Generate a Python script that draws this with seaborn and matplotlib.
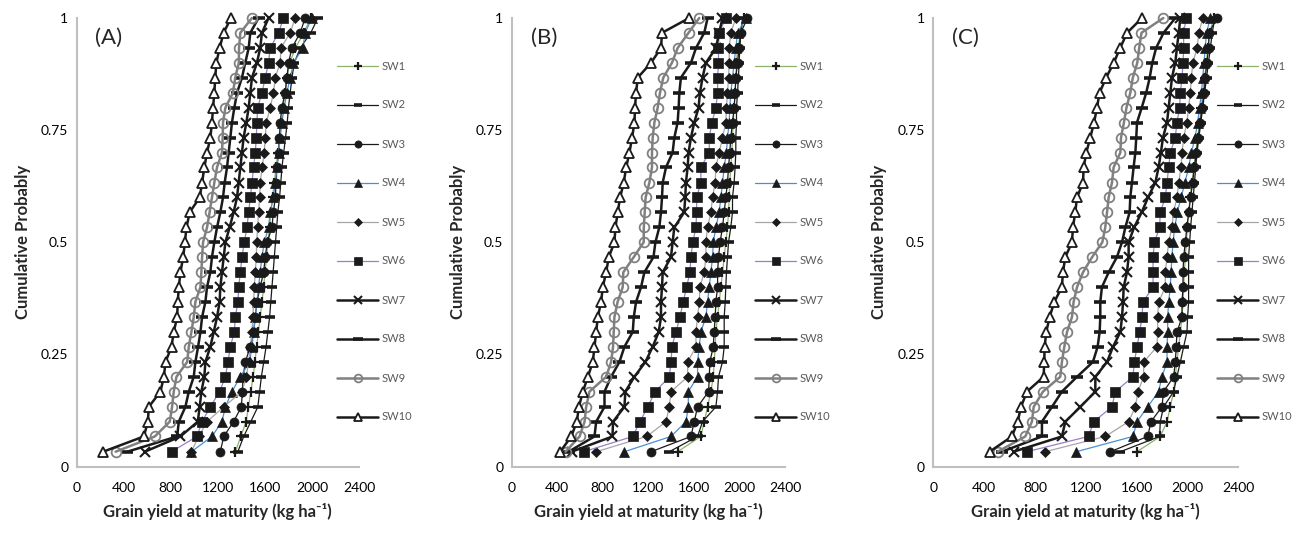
import pandas as pd
import seaborn as sns
import matplotlib.pyplot as plt

# cumulative probability of the 30 ranked seasons
PROB = [0.033, 0.067, 0.1, 0.133, 0.167, 0.2, 0.233, 0.267, 0.3, 0.333,
        0.367, 0.4, 0.433, 0.467, 0.5, 0.533, 0.567, 0.6, 0.633, 0.667,
        0.7, 0.733, 0.767, 0.8, 0.833, 0.867, 0.9, 0.933, 0.967, 1.0]

SERIES = ['SW1', 'SW2', 'SW3', 'SW4', 'SW5', 'SW6', 'SW7', 'SW8', 'SW9', 'SW10']
PANEL_TAGS = ['(A)', '(B)', '(C)']
X_TICKS = [0, 400, 800, 1200, 1600, 2000, 2400]
Y_TICKS = [0, 0.25, 0.5, 0.75, 1]
Y_TICKLABELS = ['0', '0.25', '0.5', '0.75', '1']

# ---- panel A (grain yield, kg/ha) ----
A_SW1 = [1350, 1395, 1440, 1460, 1480, 1500, 1515, 1530, 1545, 1560, 1575, 1590, 1600, 1615, 1625,
         1640, 1650, 1665, 1680, 1695, 1710, 1725, 1740, 1755, 1770, 1790, 1810, 1860, 1930, 1990]
A_SW2 = [1370, 1420, 1480, 1540, 1555, 1570, 1590, 1610, 1625, 1640, 1650, 1660, 1670, 1680, 1690,
         1700, 1710, 1725, 1735, 1745, 1760, 1775, 1790, 1800, 1815, 1830, 1850, 1900, 1990, 2050]
A_SW3 = [1221, 1250, 1334, 1400, 1408, 1415, 1433, 1476, 1504, 1518, 1532, 1560, 1589, 1603, 1620,
         1659, 1673, 1688, 1696, 1702, 1716, 1724, 1730, 1744, 1772, 1787, 1801, 1829, 1900, 1942]
A_SW4 = [975, 1150, 1235, 1264, 1320, 1391, 1470, 1490, 1504, 1518, 1532, 1546, 1560, 1575, 1595,
         1631, 1645, 1673, 1688, 1702, 1716, 1730, 1744, 1764, 1787, 1815, 1843, 1922, 1942, 2000]
A_SW5 = [975, 1037, 1108, 1250, 1405, 1442, 1462, 1476, 1490, 1498, 1504, 1510, 1518, 1527, 1530,
         1538, 1546, 1555, 1560, 1577, 1594, 1603, 1612, 1645, 1673, 1688, 1730, 1736, 1815, 1857]
A_SW6 = [806, 1023, 1066, 1136, 1215, 1264, 1286, 1306, 1340, 1348, 1371, 1377, 1391, 1405, 1425,
         1447, 1462, 1476, 1490, 1504, 1518, 1527, 1532, 1538, 1575, 1603, 1631, 1645, 1716, 1758]
A_SW7 = [580, 882, 1029, 1046, 1060, 1085, 1094, 1136, 1165, 1193, 1215, 1221, 1235, 1250, 1264,
         1300, 1334, 1363, 1377, 1391, 1405, 1419, 1442, 1462, 1476, 1490, 1532, 1560, 1575, 1631]
A_SW8 = [430, 854, 868, 924, 953, 995, 1009, 1032, 1052, 1066, 1094, 1108, 1136, 1150, 1170,
         1193, 1221, 1244, 1258, 1278, 1292, 1306, 1320, 1340, 1363, 1405, 1433, 1462, 1476, 1546]
A_SW9 = [331, 664, 791, 811, 825, 848, 939, 953, 975, 995, 1009, 1052, 1060, 1066, 1074,
         1108, 1130, 1150, 1170, 1193, 1235, 1241, 1244, 1264, 1328, 1348, 1378, 1380, 1391, 1490]
A_SW10 = [225, 571, 605, 613, 712, 741, 755, 806, 825, 854, 859, 868, 882, 905, 920,
          933, 961, 1046, 1066, 1085, 1108, 1136, 1150, 1159, 1170, 1178, 1187, 1215, 1249, 1312]

# ---- panel B ----
B_SW1 = [1457, 1661, 1691, 1720, 1749, 1770, 1778, 1787, 1793, 1808, 1822, 1837, 1851, 1866, 1880,
         1895, 1904, 1910, 1915, 1924, 1933, 1939, 1945, 1953, 1962, 1968, 1974, 1983, 2012, 2041]
B_SW2 = [1384, 1632, 1676, 1793, 1808, 1816, 1851, 1866, 1866, 1866, 1875, 1880, 1886, 1895, 1904,
         1924, 1939, 1939, 1953, 1962, 1968, 1968, 1974, 1974, 1983, 1991, 1997, 2003, 2012, 2027]
B_SW3 = [1224, 1574, 1603, 1632, 1729, 1735, 1740, 1770, 1778, 1787, 1793, 1808, 1808, 1816, 1830,
         1851, 1866, 1880, 1895, 1904, 1915, 1924, 1939, 1953, 1962, 1968, 1983, 1997, 2012, 2070]
B_SW4 = [990, 1399, 1530, 1551, 1551, 1632, 1632, 1647, 1661, 1705, 1720, 1735, 1749, 1764, 1770,
         1793, 1822, 1837, 1851, 1866, 1886, 1895, 1910, 1915, 1924, 1939, 1953, 1968, 1983, 2056]
B_SW5 = [742, 1186, 1355, 1384, 1399, 1545, 1545, 1618, 1618, 1632, 1647, 1653, 1691, 1705, 1705,
         1720, 1749, 1764, 1787, 1793, 1822, 1851, 1880, 1886, 1895, 1904, 1910, 1910, 1924, 1968]
B_SW6 = [633, 1063, 1127, 1194, 1261, 1384, 1399, 1407, 1442, 1477, 1506, 1536, 1565, 1574, 1590,
         1618, 1624, 1624, 1661, 1661, 1735, 1735, 1758, 1793, 1808, 1808, 1816, 1816, 1822, 1880]
B_SW7 = [527, 885, 890, 990, 998, 1077, 1174, 1238, 1291, 1311, 1311, 1320, 1326, 1399, 1413,
         1428, 1515, 1524, 1530, 1545, 1553, 1574, 1603, 1641, 1653, 1676, 1705, 1793, 1822, 1851]
B_SW8 = [500, 727, 742, 815, 815, 873, 946, 990, 1063, 1072, 1092, 1136, 1165, 1245, 1262,
         1296, 1311, 1320, 1326, 1355, 1413, 1428, 1457, 1466, 1472, 1486, 1574, 1618, 1691, 1720]
B_SW9 = [473, 596, 640, 654, 683, 829, 873, 890, 896, 902, 930, 975, 980, 1072, 1159,
         1160, 1168, 1176, 1209, 1232, 1232, 1238, 1253, 1282, 1302, 1331, 1407, 1457, 1553, 1647]
B_SW10 = [426, 523, 572, 590, 625, 669, 712, 727, 742, 756, 785, 800, 829, 853, 902,
          911, 931, 952, 984, 1005, 1034, 1057, 1078, 1083, 1092, 1107, 1223, 1311, 1320, 1559]

# ---- panel C ----
C_SW1 = [1603, 1786, 1839, 1865, 1891, 1904, 1917, 1931, 1944, 1957, 1965, 1970, 1975, 1983, 1991,
         2000, 2010, 2020, 2035, 2050, 2065, 2080, 2095, 2108, 2120, 2135, 2148, 2160, 2175, 2206]
C_SW2 = [1472, 1781, 1786, 1812, 1891, 1917, 1944, 1970, 1996, 2001, 2009, 2009, 2009, 2009, 2017,
         2025, 2035, 2045, 2055, 2065, 2075, 2090, 2105, 2120, 2135, 2150, 2165, 2180, 2195, 2215]
C_SW3 = [1393, 1687, 1713, 1799, 1812, 1891, 1904, 1912, 1917, 1957, 1957, 1965, 1965, 1970, 1983,
         1995, 2010, 2025, 2040, 2055, 2070, 2085, 2101, 2114, 2132, 2140, 2153, 2166, 2170, 2232]
C_SW4 = [1125, 1571, 1603, 1687, 1773, 1799, 1839, 1839, 1844, 1844, 1852, 1865, 1870, 1878, 1886,
         1900, 1920, 1950, 1980, 2010, 2030, 2060, 2080, 2095, 2110, 2120, 2130, 2140, 2150, 2180]
C_SW5 = [881, 1353, 1537, 1590, 1611, 1655, 1655, 1760, 1765, 1765, 1773, 1826, 1826, 1839, 1852,
         1878, 1891, 1917, 1931, 1949, 1957, 1970, 1995, 2009, 2022, 2030, 2043, 2075, 2090, 2120]
C_SW6 = [737, 1222, 1262, 1406, 1432, 1571, 1582, 1603, 1624, 1642, 1650, 1729, 1729, 1729, 1740,
         1781, 1786, 1826, 1839, 1852, 1865, 1904, 1917, 1938, 1944, 1957, 1965, 1970, 1970, 1990]
C_SW7 = [632, 1012, 1039, 1157, 1275, 1275, 1367, 1414, 1472, 1485, 1493, 1498, 1524, 1537, 1537,
         1580, 1640, 1690, 1747, 1773, 1791, 1807, 1839, 1852, 1865, 1878, 1904, 1917, 1931, 1944]
C_SW8 = [540, 855, 855, 934, 1012, 1131, 1256, 1293, 1309, 1314, 1314, 1327, 1380, 1445, 1485,
         1511, 1545, 1550, 1563, 1576, 1590, 1597, 1603, 1640, 1675, 1703, 1723, 1753, 1812, 1904]
C_SW9 = [506, 724, 776, 790, 863, 999, 1012, 1031, 1052, 1091, 1104, 1131, 1178, 1250, 1330,
         1353, 1367, 1380, 1406, 1419, 1472, 1477, 1500, 1520, 1550, 1570, 1605, 1620, 1638, 1810]
C_SW10 = [443, 619, 664, 690, 737, 868, 873, 876, 889, 915, 952, 1012, 1020, 1039, 1091,
          1099, 1117, 1131, 1178, 1183, 1204, 1235, 1265, 1288, 1308, 1360, 1420, 1470, 1525, 1642]

PANEL_DATA = [
    [A_SW1, A_SW2, A_SW3, A_SW4, A_SW5, A_SW6, A_SW7, A_SW8, A_SW9, A_SW10],
    [B_SW1, B_SW2, B_SW3, B_SW4, B_SW5, B_SW6, B_SW7, B_SW8, B_SW9, B_SW10],
    [C_SW1, C_SW2, C_SW3, C_SW4, C_SW5, C_SW6, C_SW7, C_SW8, C_SW9, C_SW10],
]

# Excel-like line / marker styles per series
STYLES = {
    'SW1': dict(color='#8cb369', lw=0.9, marker='+', ms=7, mfc='k', mec='k', mew=1.6),
    'SW2': dict(color='k', lw=0.9, marker='_', ms=7, mfc='k', mec='k', mew=2.6),
    'SW3': dict(color='k', lw=0.9, marker='o', ms=6.5, mfc='k', mec='k', mew=0.5),
    'SW4': dict(color='#4a8fd6', lw=0.9, marker='^', ms=7, mfc='k', mec='k', mew=0.5),
    'SW5': dict(color='#a6a6a6', lw=0.9, marker='D', ms=5.5, mfc='k', mec='k', mew=0.5),
    'SW6': dict(color='#9b7fc7', lw=0.9, marker='s', ms=6.5, mfc='k', mec='k', mew=0.5),
    'SW7': dict(color='k', lw=1.8, marker='x', ms=6.5, mfc='k', mec='k', mew=1.5),
    'SW8': dict(color='k', lw=1.8, marker='_', ms=9, mfc='k', mec='k', mew=2.6),
    'SW9': dict(color='#808080', lw=1.8, marker='o', ms=7, mfc='none', mec='#808080', mew=1.3),
    'SW10': dict(color='k', lw=1.8, marker='^', ms=7, mfc='white', mec='k', mew=1.3),
}

sns.set_theme(style="white")
plt.rcParams['font.family'] = ['Lato', 'DejaVu Sans']

W, H = 1304, 535
fig = plt.figure(figsize=(W / 100, H / 100), dpi=100)

# axes boxes in pixels: left, right of the 0..2400 range; legend start in px
AX_LEFT = [76.7, 511.7, 933.3]
AX_RIGHT = [359.0, 785.0, 1238.3]
LEG_START = [337.0, 755.0, 1217.0]
AX_BOTTOM, AX_TOP = 466.5, 18.0

for k in range(3):
    left, right = AX_LEFT[k], AX_RIGHT[k]
    wpx, hpx = right - left, AX_BOTTOM - AX_TOP
    ax = fig.add_axes([left / W, (H - AX_BOTTOM) / H, wpx / W, hpx / H])

    for name, vals in zip(SERIES, PANEL_DATA[k]):
        df = pd.DataFrame({'yield': vals, 'prob': PROB})
        sns.lineplot(data=df, x='yield', y='prob', sort=False, estimator=None,
                     errorbar=None, ax=ax, label=name, clip_on=False, **STYLES[name])

    ax.set_xlim(0, 2400)
    ax.set_ylim(0, 1)
    ax.set_xticks(X_TICKS)
    ax.set_xticklabels([str(t) for t in X_TICKS])
    ax.set_yticks(Y_TICKS)
    ax.set_yticklabels(Y_TICKLABELS)
    ax.tick_params(axis='both', length=0, labelsize=10, colors='black')
    ax.tick_params(axis='x', pad=11)
    ax.tick_params(axis='y', pad=6)
    for side in ['top', 'right']:
        ax.spines[side].set_visible(False)
    for side in ['left', 'bottom']:
        ax.spines[side].set_color('#bfbfbf')
        ax.spines[side].set_linewidth(1.5)

    ax.set_xlabel('Grain yield at maturity (kg ha\u207b\u00b9)', fontsize=12, fontweight='bold')
    ax.set_ylabel('Cumulative Probably', fontsize=12, fontweight='bold')
    ax.xaxis.set_label_coords(0.5, -36.5 / hpx)
    ax.yaxis.set_label_coords(-46.0 / wpx, 0.5)

    ax.text(32 / wpx, (AX_BOTTOM - 38) / hpx, PANEL_TAGS[k], transform=ax.transAxes,
            fontsize=16, ha='center', va='center')

    ax.legend(loc='upper left', bbox_to_anchor=((LEG_START[k] - left) / wpx, (AX_BOTTOM - 60.5) / hpx),
              frameon=False, fontsize=8, handlelength=3.7, handletextpad=0.35,
              labelspacing=2.52, borderaxespad=0, borderpad=0, labelcolor='#595959',
              markerscale=0.8)

fig.savefig('out.png', dpi=100)
